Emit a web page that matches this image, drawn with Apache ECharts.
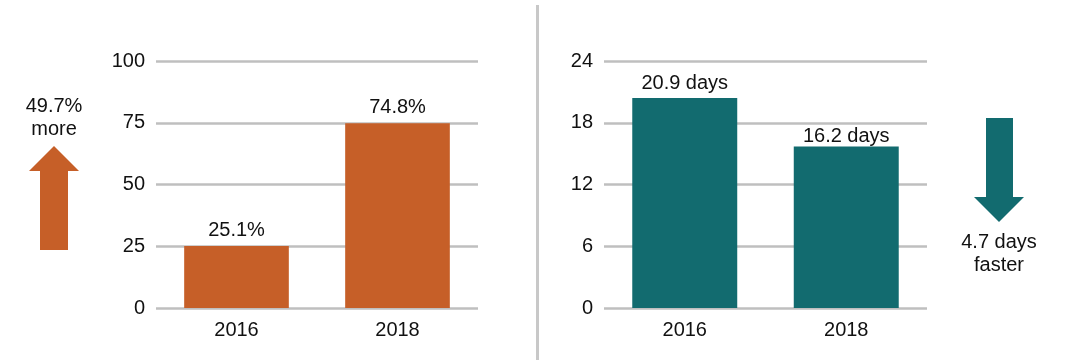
<!DOCTYPE html>
<html>
<head>
<meta charset="utf-8">
<script src="https://cdn.jsdelivr.net/npm/echarts@6/dist/echarts.min.js"></script>
<style>
html,body{margin:0;padding:0;background:#fff;}
#c{width:1072px;height:360px;}
</style>
</head>
<body>
<div id="c"></div>
<script>
// Data
const categories = ['2016', '2018'];
const shareValues = [25.1, 74.8];
const shareLabels = ['25.1%', '74.8%'];
const daysValues = [20.4, 15.7];
const daysLabels = ['20.9 days', '16.2 days'];
const shareTicks = [0, 25, 50, 75, 100];
const daysTicks = [0, 6, 12, 18, 24];
const upNote = ['49.7%', 'more'];
const downNote = ['4.7 days', 'faster'];

const ORANGE = '#C65F28';
const TEAL = '#126B6F';
const GRID = '#BFBFBF';
const FONT = 'Liberation Sans, Arial, Helvetica, sans-serif';
const FS = 20;

const chart = echarts.init(document.getElementById('c'), null, {renderer: 'canvas'});

function yAxis(idx, ticks) {
  return {
    type: 'value', gridIndex: idx,
    min: ticks[0], max: ticks[ticks.length - 1],
    interval: ticks[1] - ticks[0],
    axisLine: {show: false}, axisTick: {show: false},
    splitLine: {show: true, lineStyle: {color: GRID, width: 2.5}},
    axisLabel: {color: '#111', fontSize: FS, fontFamily: FONT, margin: 11}
  };
}
function xAxis(idx) {
  return {
    type: 'category', gridIndex: idx, data: categories,
    axisLine: {show: false}, axisTick: {show: false},
    axisLabel: {color: '#111', fontSize: FS, fontFamily: FONT, margin: 12}
  };
}
function barSeries(idx, values, labels, color, distances) {
  return {
    type: 'bar', xAxisIndex: idx, yAxisIndex: idx,
    barWidth: '65%',
    data: values.map((v, i) => ({value: v, label: {distance: distances[i]}})),
    itemStyle: {color: color},
    label: {
      show: true, position: 'top',
      color: '#111', fontSize: FS, fontFamily: FONT,
      formatter: p => labels[p.dataIndex]
    },
    silent: true
  };
}

const option = {
  backgroundColor: '#fff',
  animation: false,
  grid: [
    {left: 156, right: 594, top: 61, bottom: 52},
    {left: 604, right: 145, top: 61, bottom: 52}
  ],
  xAxis: [xAxis(0), xAxis(1)],
  yAxis: [yAxis(0, shareTicks), yAxis(1, daysTicks)],
  series: [
    barSeries(0, shareValues, shareLabels, ORANGE, [6, 6]),
    barSeries(1, daysValues, daysLabels, TEAL, [5, 0])
  ],
  graphic: [
    // divider
    {type: 'rect', shape: {x: 536, y: 5, width: 3, height: 360}, style: {fill: '#C8C8C8'}, silent: true},
    // up arrow
    {type: 'polygon', shape: {points: [[54, 146], [79, 171], [68, 171], [68, 250], [40, 250], [40, 171], [29, 171]]},
      style: {fill: ORANGE}, silent: true},
    {type: 'text', x: 54, y: 106, style: {text: upNote[0], fill: '#111', font: FS + 'px ' + FONT, align: 'center', verticalAlign: 'middle'}},
    {type: 'text', x: 54, y: 129, style: {text: upNote[1], fill: '#111', font: FS + 'px ' + FONT, align: 'center', verticalAlign: 'middle'}},
    // down arrow
    {type: 'polygon', shape: {points: [[986, 118], [1013, 118], [1013, 197], [1024, 197], [999, 222], [974, 197], [986, 197]]},
      style: {fill: TEAL}, silent: true},
    {type: 'text', x: 999, y: 242, style: {text: downNote[0], fill: '#111', font: FS + 'px ' + FONT, align: 'center', verticalAlign: 'middle'}},
    {type: 'text', x: 999, y: 265, style: {text: downNote[1], fill: '#111', font: FS + 'px ' + FONT, align: 'center', verticalAlign: 'middle'}}
  ]
};
chart.setOption(option);
</script>
</body>
</html>
